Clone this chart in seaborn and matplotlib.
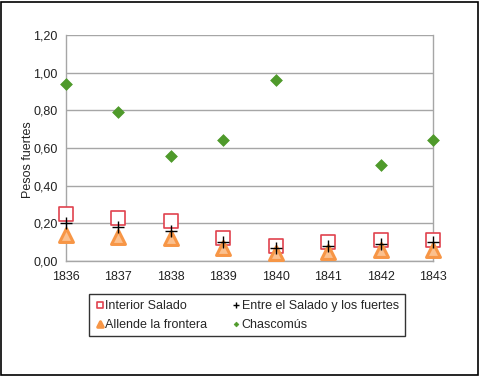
import numpy as np
import pandas as pd
import matplotlib
matplotlib.use("Agg")
import matplotlib.pyplot as plt
from matplotlib.ticker import FuncFormatter
from matplotlib.patches import Rectangle
import seaborn as sns

years = [1836, 1837, 1838, 1839, 1840, 1841, 1842, 1843]
interior_salado = [0.25, 0.23, 0.21, 0.12, 0.08, 0.10, 0.11, 0.11]
entre_salado_fuertes = [0.20, 0.18, 0.16, 0.10, 0.07, 0.08, 0.09, 0.10]
allende_frontera = [0.14, 0.13, 0.12, 0.07, 0.04, 0.05, 0.06, 0.06]
chascomus = [0.94, 0.79, 0.56, 0.64, 0.96, np.nan, 0.51, 0.64]

df = pd.DataFrame({
    "year": years,
    "Interior Salado": interior_salado,
    "Entre el Salado y los fuertes": entre_salado_fuertes,
    "Allende la frontera": allende_frontera,
    "Chascomús": chascomus,
})

sns.set_style("white")
plt.rcParams["font.family"] = ["Liberation Sans", "DejaVu Sans"]
plt.rcParams["font.size"] = 8

fig = plt.figure(figsize=(4.8, 3.76), dpi=100)
ax = fig.add_axes([66 / 480, 1 - 261 / 376, (433 - 66) / 480, (261 - 35) / 376])

grid = "#a6a6a6"
sns.scatterplot(data=df, x="year", y="Interior Salado", ax=ax, marker="s", s=90,
                facecolor="white", edgecolor="#e0424e", linewidth=1.2,
                label="Interior Salado", clip_on=False, zorder=3)
sns.scatterplot(data=df, x="year", y="Entre el Salado y los fuertes", ax=ax, marker="+",
                s=85, color="black", linewidth=1.0,
                label="Entre el Salado y los fuertes", clip_on=False, zorder=5)
sns.scatterplot(data=df, x="year", y="Allende la frontera", ax=ax, marker="^", s=100,
                facecolor="#fbc08e", edgecolor="#f79646", linewidth=2.2,
                label="Allende la frontera", clip_on=False, zorder=4)
sns.scatterplot(data=df, x="year", y="Chascomús", ax=ax, marker="D", s=36,
                color="#4f9a2b", edgecolor="#4f9a2b", linewidth=0.5,
                label="Chascomús", clip_on=False, zorder=4)

ax.set_xlim(1836, 1843)
ax.set_ylim(0, 1.2)
ax.set_xticks(years)
ax.set_xticklabels([str(y) for y in years])
ax.set_yticks(np.arange(0, 1.21, 0.2))
ax.yaxis.set_major_formatter(FuncFormatter(lambda v, p: f"{v:.2f}".replace(".", ",")))
ax.yaxis.grid(True, color=grid, linewidth=1)
ax.set_axisbelow(True)
ax.set_xlabel("")
ax.set_ylabel("Pesos fuertes", fontsize=9, color="#222222")
ax.yaxis.set_label_coords(-(66 - 34) / 367, 0.45)
for side in ["left", "bottom", "right"]:
    ax.spines[side].set_color(grid)
    ax.spines[side].set_linewidth(1)
ax.spines["top"].set_visible(False)
ax.tick_params(axis="both", direction="out", length=4, color=grid, width=1,
               labelsize=9, labelcolor="#222222", pad=3)
ax.tick_params(axis="y", length=3)

handles, labels = ax.get_legend_handles_labels()
order = [0, 2, 1, 3]
ax.legend([handles[i] for i in order], [labels[i] for i in order], ncol=2,
          loc="upper left", bbox_to_anchor=(89 / 480, 1 - 294 / 376),
          bbox_transform=fig.transFigure, frameon=True, fancybox=False,
          edgecolor="black", markerscale=0.4, handletextpad=0.05,
          handlelength=0.8, columnspacing=1.9, labelspacing=0.55,
          borderpad=0.45, borderaxespad=0, fontsize=9)
ax.get_legend().get_frame().set_linewidth(1)

fig.add_artist(Rectangle((1 / 480, 1 / 376), 477 / 480, 373 / 376,
                         transform=fig.transFigure, fill=False,
                         edgecolor="black", linewidth=1.2))

fig.savefig("out.png", dpi=100)
